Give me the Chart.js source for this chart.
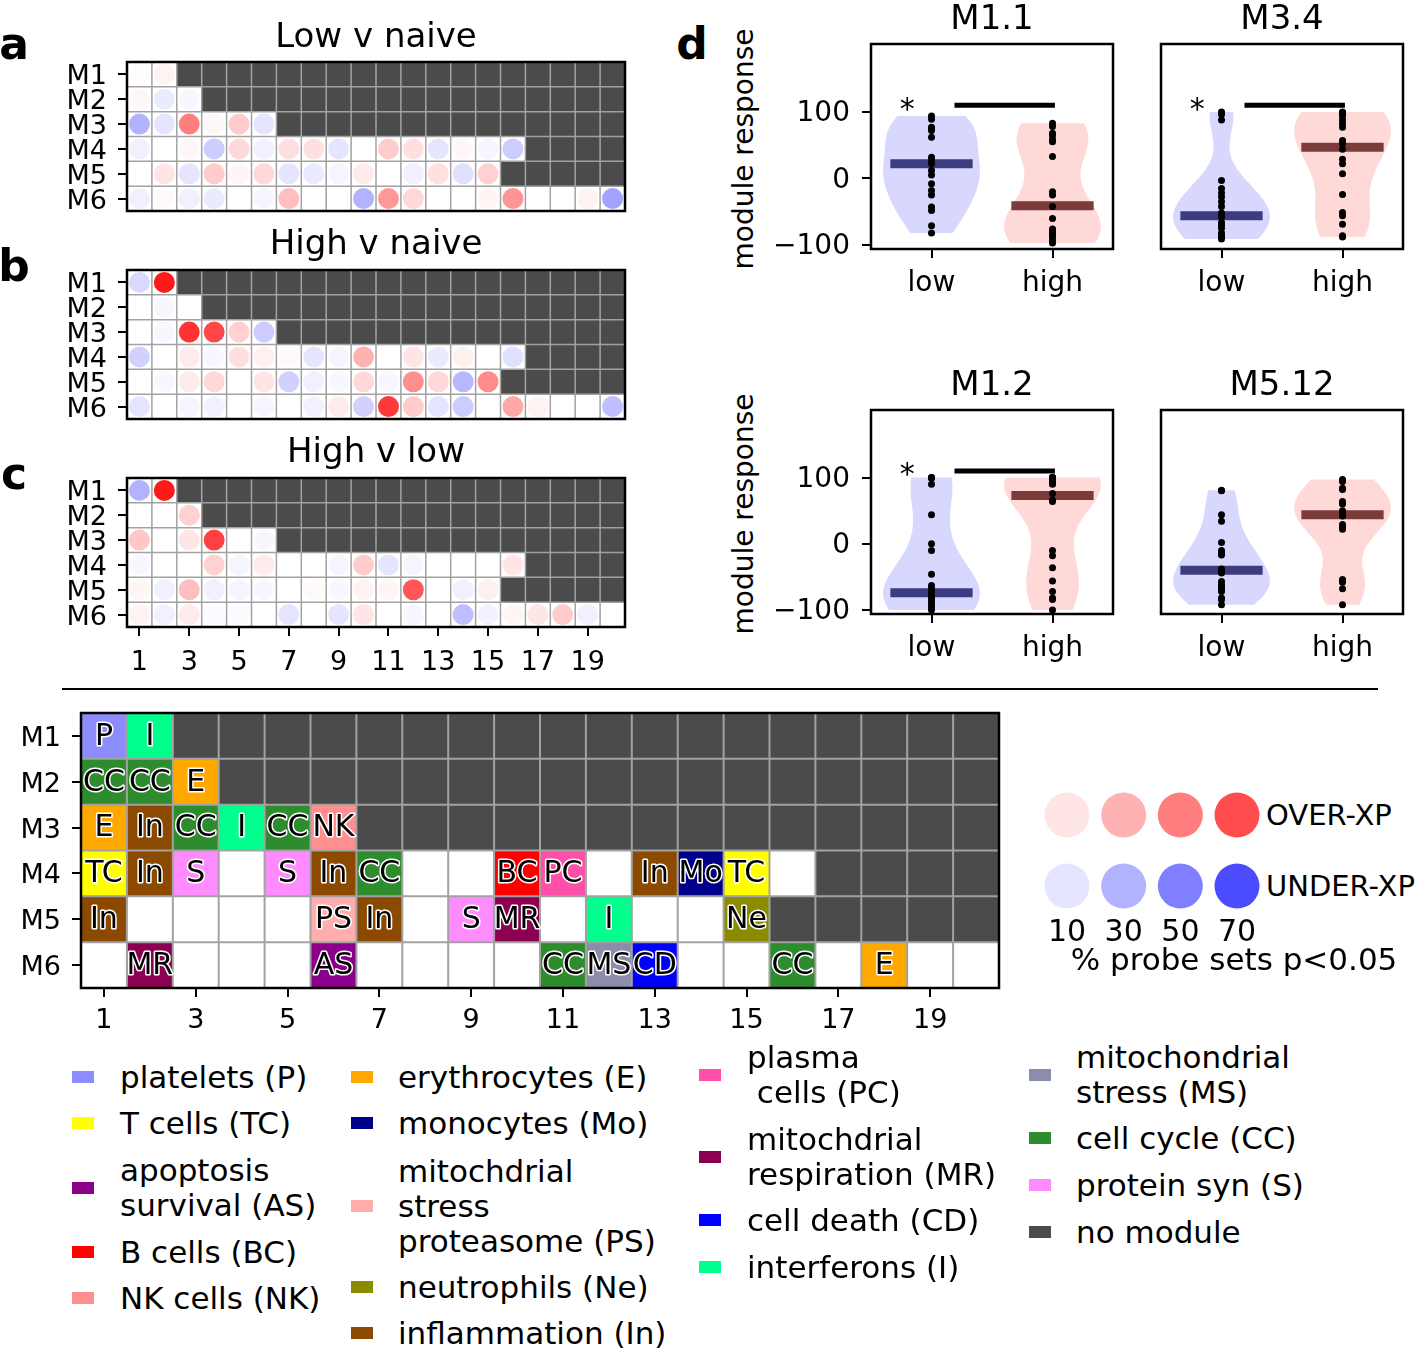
<!DOCTYPE html>
<html>
<head>
<meta charset="utf-8">
<script src="https://cdn.jsdelivr.net/npm/chart.js"></script>
<style>
  body { margin: 0; background: #fff; }
  #fig { position: relative; width: 1418px; height: 1352px; overflow: hidden; background: #fff;
         font-family: 'DejaVu Sans', 'Liberation Sans', sans-serif; color: #000; }
  #fig canvas { position: absolute; }
  .t { position: absolute; white-space: pre; line-height: 1; }
</style>
</head>
<body>
<div id="fig"></div>
<script>
// ---- heatmap data (signed % probe sets p<0.05: + over-expressed, - under-expressed) ----
const rowLabels = ['M1', 'M2', 'M3', 'M4', 'M5', 'M6'];
const nCols = 20;
const modulesPerRow = [2, 3, 6, 16, 15, 20];
const xTickValues = [1, 3, 5, 7, 9, 11, 13, 15, 17, 19];

const lowVsNaive = [
  [1, 5],
  [3, -8, -3],
  [-30, -10, 50, 3, 20, -10],
  [-6, 0, 3, -20, 15, -6, 12, 12, -10, 0, 20, 12, -10, 3, -4, -20],
  [0, 10, -10, 20, 4, 15, -10, -8, -4, 8, 0, -6, 12, -12, 18],
  [-6, 2, -6, -8, 0, -4, 25, 0, 0, -30, 40, 15, 0, 0, 4, 42, 0, 0, 5, -36]
];
const highVsNaive = [
  [-15, 90],
  [0, -3, 0],
  [0, -3, 80, 72, 18, -20],
  [-18, 0, 8, -3, 12, 6, 2, -10, -4, 30, 0, 10, -8, 6, 0, -12],
  [0, -3, 8, 15, 0, 10, -18, -6, -3, 15, -3, 44, 15, -28, 45],
  [-10, 0, -4, -6, 0, -4, 0, -6, 8, -18, 78, 20, -10, -20, 0, 34, 5, 0, 0, -25]
];
const highVsLow = [
  [-30, 90],
  [0, 0, 18],
  [22, 0, 10, 75, 0, -3],
  [-3, 0, 0, 18, -4, 8, 0, 0, -4, 20, -10, -4, 0, 0, 0, 10],
  [4, -6, 25, -6, -4, -3, 0, 2, -3, 5, 4, 66, 0, -6, 6],
  [5, -6, 8, -2, -2, 0, -10, 0, -10, 10, 0, -3, 0, -25, -5, 4, 10, 20, -6, 0]
];

// ---- module annotation grid ----
const moduleCodes = [
  ['P', 'I'],
  ['CC', 'CC', 'E'],
  ['E', 'In', 'CC', 'I', 'CC', 'NK'],
  ['TC', 'In', 'S', '', 'S', 'In', 'CC', '', '', 'BC', 'PC', '', 'In', 'Mo', 'TC', ''],
  ['In', '', '', '', '', 'PS', 'In', '', 'S', 'MR', '', 'I', '', '', 'Ne'],
  ['', 'MR', '', '', '', 'AS', '', '', '', '', 'CC', 'MS', 'CD', '', '', 'CC', '', 'E', '', '']
];
const categoryCodes = ['P', 'TC', 'AS', 'BC', 'NK', 'E', 'Mo', 'PS', 'Ne', 'In',
                       'PC', 'MR', 'CD', 'I', 'MS', 'CC', 'S', 'none'];
const categoryNames = ['platelets (P)', 'T cells (TC)', 'apoptosis\nsurvival (AS)', 'B cells (BC)', 'NK cells (NK)',
                       'erythrocytes (E)', 'monocytes (Mo)', 'mitochdrial\nstress\nproteasome (PS)', 'neutrophils (Ne)', 'inflammation (In)',
                       'plasma\n cells (PC)', 'mitochdrial\nrespiration (MR)', 'cell death (CD)', 'interferons (I)',
                       'mitochondrial\nstress (MS)', 'cell cycle (CC)', 'protein syn (S)', 'no module'];
const categoryColors = ['#8c8cff', '#ffff00', '#8b008b', '#ff0000', '#ff8f8f',
                        '#ffa800', '#00008b', '#ffadad', '#8b8b00', '#8b4a00',
                        '#ff4fa8', '#8b0050', '#0000ff', '#00ff8c',
                        '#8c8cab', '#2e8b2e', '#ff8cff', '#4b4b4b'];
const legendLevels = [10, 30, 50, 70];

// ---- panel d: module response per subject ----
const groupLabels = ['low', 'high'];
const m11Low  = [94, 89, 77, 75, 72, 62, 32, 27, 22, 12, 5, -8, -18, -25, -43, -48, -71, -82];
const m11High = [83, 78, 68, 64, 58, 55, 33, -20, -25, -42, -60, -76, -78, -82, -85, -88, -93, -97];
const m34Low  = [100, 96, 88, -3, -15, -22, -28, -35, -42, -52, -56, -58, -66, -70, -75, -82, -86, -88, -91];
const m34High = [100, 99, 98, 94, 88, 82, 77, 57, 52, 44, 29, 22, 7, -24, -51, -56, -69, -86, -88];
const m12Low  = [100, 100, 99, 90, 44, 0, -10, -46, -63, -68, -72, -77, -80, -84, -88, -92, -96, -100];
const m12High = [100, 100, 100, 99, 98, 93, 92, 91, 90, 76, 66, 64, -10, -18, -36, -56, -72, -82, -84, -100];
const m512Low  = [81, 80, 44, 34, 2, -10, -14, -17, -38, -41, -44, -57, -62, -65, -68, -72, -82, -84, -92];
const m512High = [97, 94, 84, 82, 64, 60, 50, 46, 44, 42, 29, 25, 22, -54, -56, -58, -68, -92];
const medianM11 = [22, -41];
const medianM34 = [-56, 47];
const medianM12 = [-74, 73];
const medianM512 = [-40, 44];
const responseTicks = [-100, 0, 100];

const FONT = "'DejaVu Sans', 'Liberation Sans', sans-serif";
Chart.defaults.font.family = FONT;
Chart.defaults.color = '#000';
const fig = document.getElementById('fig');

function addCanvas(b) {
  const c = document.createElement('canvas');
  c.width = b.w; c.height = b.h;
  c.style.left = b.x + 'px'; c.style.top = b.y + 'px';
  c.style.width = b.w + 'px'; c.style.height = b.h + 'px';
  fig.appendChild(c);
  return c;
}

function addText(str, x, y, size, o = {}) {
  const d = document.createElement('div');
  d.className = 't';
  d.textContent = str;
  d.style.fontSize = size + 'px';
  if (o.lh) d.style.lineHeight = o.lh + 'px';
  if (o.bold) d.style.fontWeight = 'bold';
  d.style.left = x + 'px';
  d.style.top = y + 'px';
  const ax = o.align === 'left' ? '0' : '-50%';
  d.style.transform = `translate(${ax}, -50%)` + (o.rotate ? ` rotate(${o.rotate}deg)` : '');
  fig.appendChild(d);
  return d;
}

function colorOf(code) {
  return categoryColors[categoryCodes.indexOf(code)];
}

function circleColor(v) {
  const a = Math.min(Math.abs(v), 100) / 100;
  return v >= 0 ? `rgba(255,0,0,${a})` : `rgba(0,0,255,${a})`;
}

// force an axis to a fixed thickness and drop the label overhang padding
function fixSize(size) {
  return s => {
    if (s.isHorizontal()) s.height = size; else s.width = size;
    s.paddingTop = 0; s.paddingBottom = 0; s.paddingLeft = 0; s.paddingRight = 0;
  };
}

function frame(chart, w) {
  const { ctx, chartArea: a } = chart;
  ctx.save();
  ctx.strokeStyle = '#000';
  ctx.lineWidth = w;
  ctx.strokeRect(a.left, a.top, a.right - a.left, a.bottom - a.top);
  ctx.restore();
}

// grid cells (white, no-module dark, or module colour) drawn through the scales
const cellPlugin = {
  id: 'cells',
  beforeDatasetsDraw(chart, args, o) {
    const { ctx, scales: { x, y } } = chart;
    ctx.save();
    for (let r = 0; r < rowLabels.length; r++) {
      for (let c = 0; c < nCols; c++) {
        let fill = '#ffffff';
        if (c >= modulesPerRow[r]) fill = colorOf('none');
        else if (o.codes && o.codes[r][c]) fill = colorOf(o.codes[r][c]);
        const x0 = x.getPixelForValue(c + 0.5), x1 = x.getPixelForValue(c + 1.5);
        const y0 = y.getPixelForValue(r + 0.5), y1 = y.getPixelForValue(r + 1.5);
        ctx.fillStyle = fill;
        ctx.fillRect(x0, y0, x1 - x0, y1 - y0);
      }
    }
    ctx.strokeStyle = '#a2a2a2';
    ctx.lineWidth = o.gridWidth || 1.5;
    ctx.beginPath();
    for (let c = 1; c < nCols; c++) {
      const px = x.getPixelForValue(c + 0.5);
      ctx.moveTo(px, chart.chartArea.top); ctx.lineTo(px, chart.chartArea.bottom);
    }
    for (let r = 1; r < rowLabels.length; r++) {
      const py = y.getPixelForValue(r + 0.5);
      ctx.moveTo(chart.chartArea.left, py); ctx.lineTo(chart.chartArea.right, py);
    }
    ctx.stroke();
    ctx.restore();
  },
  afterDatasetsDraw(chart, args, o) {
    const { ctx, scales: { x, y } } = chart;
    if (o.codes) {
      ctx.save();
      ctx.font = `30px ${FONT}`;
      ctx.textAlign = 'center';
      ctx.textBaseline = 'middle';
      ctx.lineJoin = 'round';
      o.codes.forEach((row, r) => row.forEach((code, c) => {
        if (!code) return;
        const px = x.getPixelForValue(c + 1), py = y.getPixelForValue(r + 1) + 1;
        ctx.strokeStyle = '#fff'; ctx.lineWidth = 3;
        ctx.strokeText(code, px, py);
        ctx.fillStyle = '#000';
        ctx.fillText(code, px, py);
      }));
      ctx.restore();
    }
    frame(chart, 2.5);
  }
};

function heatChart(b, area, values, opts) {
  const canvas = addCanvas(b);
  const pts = [];
  if (values) values.forEach((row, r) => row.forEach((v, c) => {
    if (v !== 0) pts.push({ x: c + 1, y: r + 1, v });
  }));
  const yw = area.l - b.x;
  const xh = opts.xTicks ? b.y + b.h - area.b : 0;
  new Chart(canvas, {
    type: 'scatter',
    data: {
      datasets: [{
        data: pts,
        pointRadius: 10.5,
        pointHoverRadius: 10.5,
        borderWidth: 0,
        backgroundColor: ctx => circleColor(ctx.raw ? ctx.raw.v : 0)
      }]
    },
    options: {
      responsive: false,
      animation: false,
      events: [],
      layout: {
        autoPadding: false,
        padding: { left: 0, top: area.t - b.y, right: b.x + b.w - area.r, bottom: opts.xTicks ? 0 : b.y + b.h - area.b }
      },
      plugins: {
        legend: { display: false },
        tooltip: { enabled: false },
        cells: { codes: opts.codes, gridWidth: opts.gridWidth }
      },
      scales: {
        x: {
          type: 'linear', min: 0.5, max: nCols + 0.5,
          display: !!opts.xTicks,
          afterBuildTicks: s => { s.ticks = xTickValues.map(value => ({ value })); },
          afterFit: fixSize(xh),
          grid: { drawOnChartArea: false, tickLength: 9, color: '#000', lineWidth: 2 },
          border: { display: false },
          ticks: { font: { size: 27, lineHeight: 1 }, color: '#000', padding: opts.xPad || 10, maxRotation: 0, autoSkip: false }
        },
        y: {
          type: 'linear', min: 0.5, max: rowLabels.length + 0.5, reverse: true,
          afterBuildTicks: s => { s.ticks = rowLabels.map((l, i) => ({ value: i + 1 })); },
          afterFit: fixSize(yw),
          grid: { drawOnChartArea: false, tickLength: 9, color: '#000', lineWidth: 2 },
          border: { display: false },
          ticks: { callback: v => rowLabels[v - 1], font: { size: 27, lineHeight: 1.15 }, color: '#000', padding: 11, labelOffset: 3, autoSkip: false }
        }
      }
    },
    plugins: [cellPlugin]
  });
}

// ---- panels a, b, c ----
heatChart({ x: 0, y: 50, w: 640, h: 170 }, { l: 127, t: 62, r: 625, b: 211 }, lowVsNaive, {});
heatChart({ x: 0, y: 258, w: 640, h: 170 }, { l: 127, t: 270, r: 625, b: 419 }, highVsNaive, {});
heatChart({ x: 0, y: 466, w: 640, h: 220 }, { l: 127, t: 478, r: 625, b: 627 }, highVsLow, { xTicks: true, xPad: 13 });
addText('Low v naive', 376, 35, 34);
addText('High v naive', 376, 242, 34);
addText('High v low', 376, 450, 34);

// ---- bottom module grid ----
heatChart({ x: 0, y: 700, w: 1015, h: 345 }, { l: 81, t: 713, r: 999, b: 988 }, null, { xTicks: true, xPad: 10, codes: moduleCodes, gridWidth: 2 });

// ---- panel d: violins ----
function kdeOutline(vals, halfMax) {
  const n = vals.length;
  const mean = vals.reduce((a, v) => a + v, 0) / n;
  const sd = Math.sqrt(vals.reduce((a, v) => a + (v - mean) ** 2, 0) / (n - 1));
  const bw = sd * Math.pow(n, -0.2);
  const lo = Math.min(...vals), hi = Math.max(...vals);
  const out = [];
  for (let i = 0; i < 100; i++) {
    const yv = lo + (hi - lo) * i / 99;
    let d = 0;
    vals.forEach(v => { const z = (yv - v) / bw; d += Math.exp(-0.5 * z * z); });
    out.push({ y: yv, d });
  }
  const m = Math.max(...out.map(p => p.d));
  return out.map(p => ({ y: p.y, w: halfMax * p.d / m }));
}

const violinPlugin = {
  id: 'violins',
  beforeDatasetsDraw(chart, args, o) {
    const { ctx, scales: { x, y } } = chart;
    ctx.save();
    o.groups.forEach((vals, g) => {
      const outline = kdeOutline(vals, 0.4);
      ctx.beginPath();
      outline.forEach((p, i) => {
        const px = x.getPixelForValue(g - p.w), py = y.getPixelForValue(p.y);
        i ? ctx.lineTo(px, py) : ctx.moveTo(px, py);
      });
      for (let i = outline.length - 1; i >= 0; i--) {
        ctx.lineTo(x.getPixelForValue(g + outline[i].w), y.getPixelForValue(outline[i].y));
      }
      ctx.closePath();
      ctx.fillStyle = o.fills[g];
      ctx.fill();
    });
    ctx.restore();
  },
  afterDatasetsDraw(chart, args, o) {
    const { ctx, scales: { x, y } } = chart;
    if (o.star) {
      ctx.save();
      ctx.font = `30px ${FONT}`;
      ctx.textAlign = 'center';
      ctx.textBaseline = 'middle';
      ctx.fillStyle = '#000';
      ctx.fillText('*', x.getPixelForValue(o.star.x), y.getPixelForValue(o.star.y) + 7);
      ctx.restore();
    }
    frame(chart, 2.5);
  }
};

const violinPanels = [
  { title: 'M1.1', low: m11Low, high: m11High, med: medianM11, sig: true, box: { l: 871, t: 44, r: 1113, b: 249 }, yLab: true },
  { title: 'M3.4', low: m34Low, high: m34High, med: medianM34, sig: true, box: { l: 1161, t: 44, r: 1403, b: 249 }, yLab: false },
  { title: 'M1.2', low: m12Low, high: m12High, med: medianM12, sig: true, box: { l: 871, t: 410, r: 1113, b: 614 }, yLab: true },
  { title: 'M5.12', low: m512Low, high: m512High, med: medianM512, sig: false, box: { l: 1161, t: 410, r: 1403, b: 614 }, yLab: false }
];
const sigBar = { x0: 0.19, x1: 1.02, y: 110, starX: -0.2, starY: 112 };

violinPanels.forEach(p => {
  const a = p.box;
  const left = p.yLab ? a.l - 111 : a.l - 21;
  const b = { x: left, y: a.t - 12, w: a.r + 10 - left, h: a.b - a.t + 12 + 60 };
  const canvas = addCanvas(b);
  const datasets = [
    {
      type: 'scatter',
      data: p.low.map(v => ({ x: 0, y: v })).concat(p.high.map(v => ({ x: 1, y: v }))),
      pointRadius: 3.5, pointHoverRadius: 3.5, backgroundColor: '#000', borderWidth: 0
    },
    {
      type: 'line', data: [{ x: -0.34, y: p.med[0] }, { x: 0.34, y: p.med[0] }],
      borderColor: '#3c3c80', borderWidth: 9, pointRadius: 0, borderCapStyle: 'butt'
    },
    {
      type: 'line', data: [{ x: 0.66, y: p.med[1] }, { x: 1.34, y: p.med[1] }],
      borderColor: '#7b3b3b', borderWidth: 9, pointRadius: 0, borderCapStyle: 'butt'
    }
  ];
  if (p.sig) datasets.push({
    type: 'line', data: [{ x: sigBar.x0, y: sigBar.y }, { x: sigBar.x1, y: sigBar.y }],
    borderColor: '#000', borderWidth: 5, pointRadius: 0, borderCapStyle: 'butt'
  });
  new Chart(canvas, {
    type: 'scatter',
    data: { datasets },
    options: {
      responsive: false,
      animation: false,
      events: [],
      layout: {
        autoPadding: false,
        padding: { left: 0, top: a.t - b.y, right: b.x + b.w - a.r, bottom: 0 }
      },
      plugins: {
        legend: { display: false },
        tooltip: { enabled: false },
        violins: {
          groups: [p.low, p.high],
          fills: ['#d8d8ff', '#ffd8d8'],
          star: p.sig ? { x: sigBar.starX, y: sigBar.starY } : null
        }
      },
      scales: {
        x: {
          type: 'linear', min: -0.5, max: 1.5,
          afterBuildTicks: s => { s.ticks = groupLabels.map((l, i) => ({ value: i })); },
          afterFit: fixSize(60),
          grid: { drawOnChartArea: false, tickLength: 9, color: '#000', lineWidth: 2 },
          border: { display: false },
          ticks: { callback: v => groupLabels[v], font: { size: 28, lineHeight: 1 }, color: '#000', padding: 12, maxRotation: 0, autoSkip: false }
        },
        y: {
          type: 'linear', min: -106, max: 202,
          display: p.yLab,
          afterBuildTicks: s => { s.ticks = responseTicks.map(value => ({ value })); },
          afterFit: fixSize(a.l - b.x),
          grid: { drawOnChartArea: false, tickLength: 9, color: '#000', lineWidth: 2 },
          border: { display: false },
          ticks: { callback: v => v < 0 ? '\u2212' + Math.abs(v) : String(v), font: { size: 28, lineHeight: 1.1 }, color: '#000', padding: 12, labelOffset: 2, autoSkip: false }
        }
      }
    },
    plugins: [violinPlugin]
  });
  addText(p.title, (a.l + a.r) / 2, a.t - 27, 34);
  if (p.yLab) addText('module response', 744, (a.t + a.b) / 2 + 2, 28, { rotate: -90 });
});

// ---- circle size / colour legend ----
(function () {
  const b = { x: 1030, y: 780, w: 230, h: 140 };
  const canvas = addCanvas(b);
  const over = legendLevels.map((v, i) => ({ x: i, y: 0, v }));
  const under = legendLevels.map((v, i) => ({ x: i, y: 1, v: -v }));
  new Chart(canvas, {
    type: 'scatter',
    data: {
      datasets: [{
        data: over.concat(under), clip: false,
        pointRadius: 22.5, pointHoverRadius: 22.5, borderWidth: 0,
        backgroundColor: ctx => circleColor(ctx.raw ? ctx.raw.v : 0)
      }]
    },
    options: {
      responsive: false, animation: false, events: [],
      layout: { autoPadding: false, padding: { left: 1067 - b.x, right: b.x + b.w - 1237, top: 815 - b.y, bottom: b.y + b.h - 886 } },
      plugins: { legend: { display: false }, tooltip: { enabled: false } },
      scales: {
        x: { type: 'linear', min: 0, max: legendLevels.length - 1, display: false },
        y: { type: 'linear', min: 0, max: 1, reverse: true, display: false }
      }
    }
  });
  addText('OVER-XP', 1266, 815, 29, { align: 'left' });
  addText('UNDER-XP', 1266, 886, 29, { align: 'left' });
  legendLevels.forEach((v, i) => addText(String(v), 1067 + i * 56.7, 931, 30));
  addText('% probe sets p<0.05', 1234, 959, 31);
})();

// ---- category legend ----
const legendColX = [[72, 120], [351, 398], [699, 747], [1029, 1076]];
const legendItemPos = [
  [0, 1077], [0, 1123], [0, 1188], [0, 1252], [0, 1298],
  [1, 1077], [1, 1123], [1, 1206], [1, 1287], [1, 1333],
  [2, 1075], [2, 1157], [2, 1220], [2, 1267],
  [3, 1075], [3, 1138], [3, 1185], [3, 1232]
];
categoryCodes.forEach((code, i) => {
  const [col, yc] = legendItemPos[i];
  const [mx, tx] = legendColX[col];
  const m = document.createElement('div');
  m.style.cssText = `position:absolute;left:${mx}px;top:${yc - 6}px;width:22px;height:12px;background:${categoryColors[i]};`;
  fig.appendChild(m);
  addText(categoryNames[i], tx, yc, 31, { align: 'left', lh: 35 });
});

// ---- panel letters and divider ----
addText('a', 14, 44, 44, { bold: true });
addText('b', 14, 266, 44, { bold: true });
addText('c', 14, 474, 44, { bold: true });
addText('d', 692, 44, 44, { bold: true });
const rule = document.createElement('div');
rule.style.cssText = 'position:absolute;left:62px;top:688px;width:1316px;height:2px;background:#000;';
fig.appendChild(rule);
</script>
</body>
</html>
